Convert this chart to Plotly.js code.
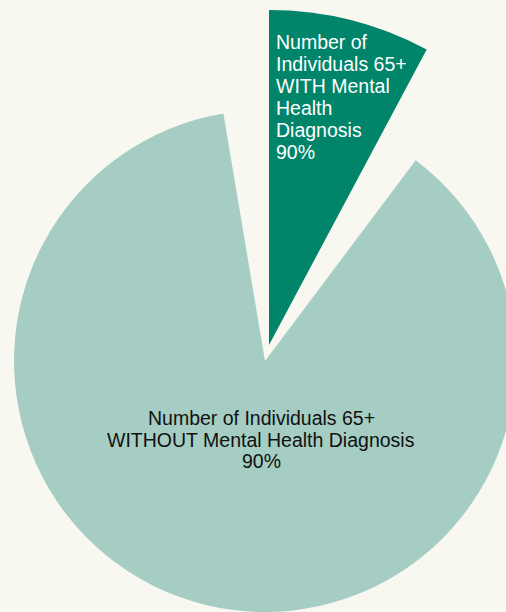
<!DOCTYPE html>
<html><head><meta charset="utf-8">
<script src="https://cdn.plot.ly/plotly-3.0.1.min.js"></script>
<style>
html,body{margin:0;padding:0;width:506px;height:612px;overflow:hidden;background:#f8f8f0}
#chart{position:absolute;left:-100px;top:-50px;width:800px;height:1000px}
</style>
</head><body><div id="chart"></div>
<script>
// Data (shares of the full circle as drawn in the picture; second entry = empty gap)
const categories = ['Number of Individuals 65+ WITHOUT Mental Health Diagnosis', 'Number of Individuals 65+ WITH Mental Health Diagnosis'];
const withoutValues = [87.1, 12.9];
const withValues = [7.8, 92.2];
const percentLabels = ['90%', '90%'];
const withoutLines = ['Number of Individuals 65+', 'WITHOUT Mental Health Diagnosis', percentLabels[0]];
const withLines = ['Number of', 'Individuals 65+', 'WITH Mental', 'Health', 'Diagnosis', percentLabels[1]];

const W = 800, H = 1000, OX = 100, OY = 50;
function dom(cx, cy, r) {
  return {x: [(cx + OX - r) / W, (cx + OX + r) / W], y: [1 - (cy + OY + r) / H, 1 - (cy + OY - r) / H]};
}
const px = x => (x + OX) / W;
const py = y => 1 - (y + OY) / H;

const BG = '#f8f8f0', LIGHT = '#a5cdc3', DARK = '#00846a', NONE = 'rgba(0,0,0,0)';
const FONT = 'Liberation Sans, Arial, sans-serif';

const traces = [
  {
    type: 'pie', values: withoutValues, labels: [categories[0], 'gap-a'],
    sort: false, direction: 'clockwise', rotation: 36.9,
    marker: {colors: [LIGHT, NONE], line: {width: 0}},
    textinfo: 'none', hoverinfo: 'skip', showlegend: false,
    domain: dom(265, 361, 251)
  },
  {
    type: 'pie', values: withValues, labels: [categories[1], 'gap-b'],
    sort: false, direction: 'clockwise', rotation: 0,
    marker: {colors: [DARK, NONE], line: {width: 0}},
    textinfo: 'none', hoverinfo: 'skip', showlegend: false,
    domain: dom(269, 345, 335)
  }
];

const annotations = [];
withoutLines.forEach((t, i) => annotations.push({
  text: t, xref: 'paper', yref: 'paper', x: px(261), y: py(424.5 + 22 * i - 7),
  xanchor: 'center', yanchor: 'middle', showarrow: false,
  font: {family: FONT, size: 19.5, color: '#111111'}
}));
withLines.forEach((t, i) => annotations.push({
  text: t, xref: 'paper', yref: 'paper', x: px(274), y: py(49.3 + 22 * i - 7),
  xanchor: 'left', yanchor: 'middle', align: 'left', showarrow: false,
  font: {family: FONT, size: 19.5, color: '#ffffff'}
}));

Plotly.newPlot('chart', traces, {
  width: W, height: H, margin: {l: 0, r: 0, t: 0, b: 0},
  paper_bgcolor: BG, plot_bgcolor: BG,
  annotations: annotations, showlegend: false
}, {displayModeBar: false, staticPlot: true});
</script>
</body></html>
